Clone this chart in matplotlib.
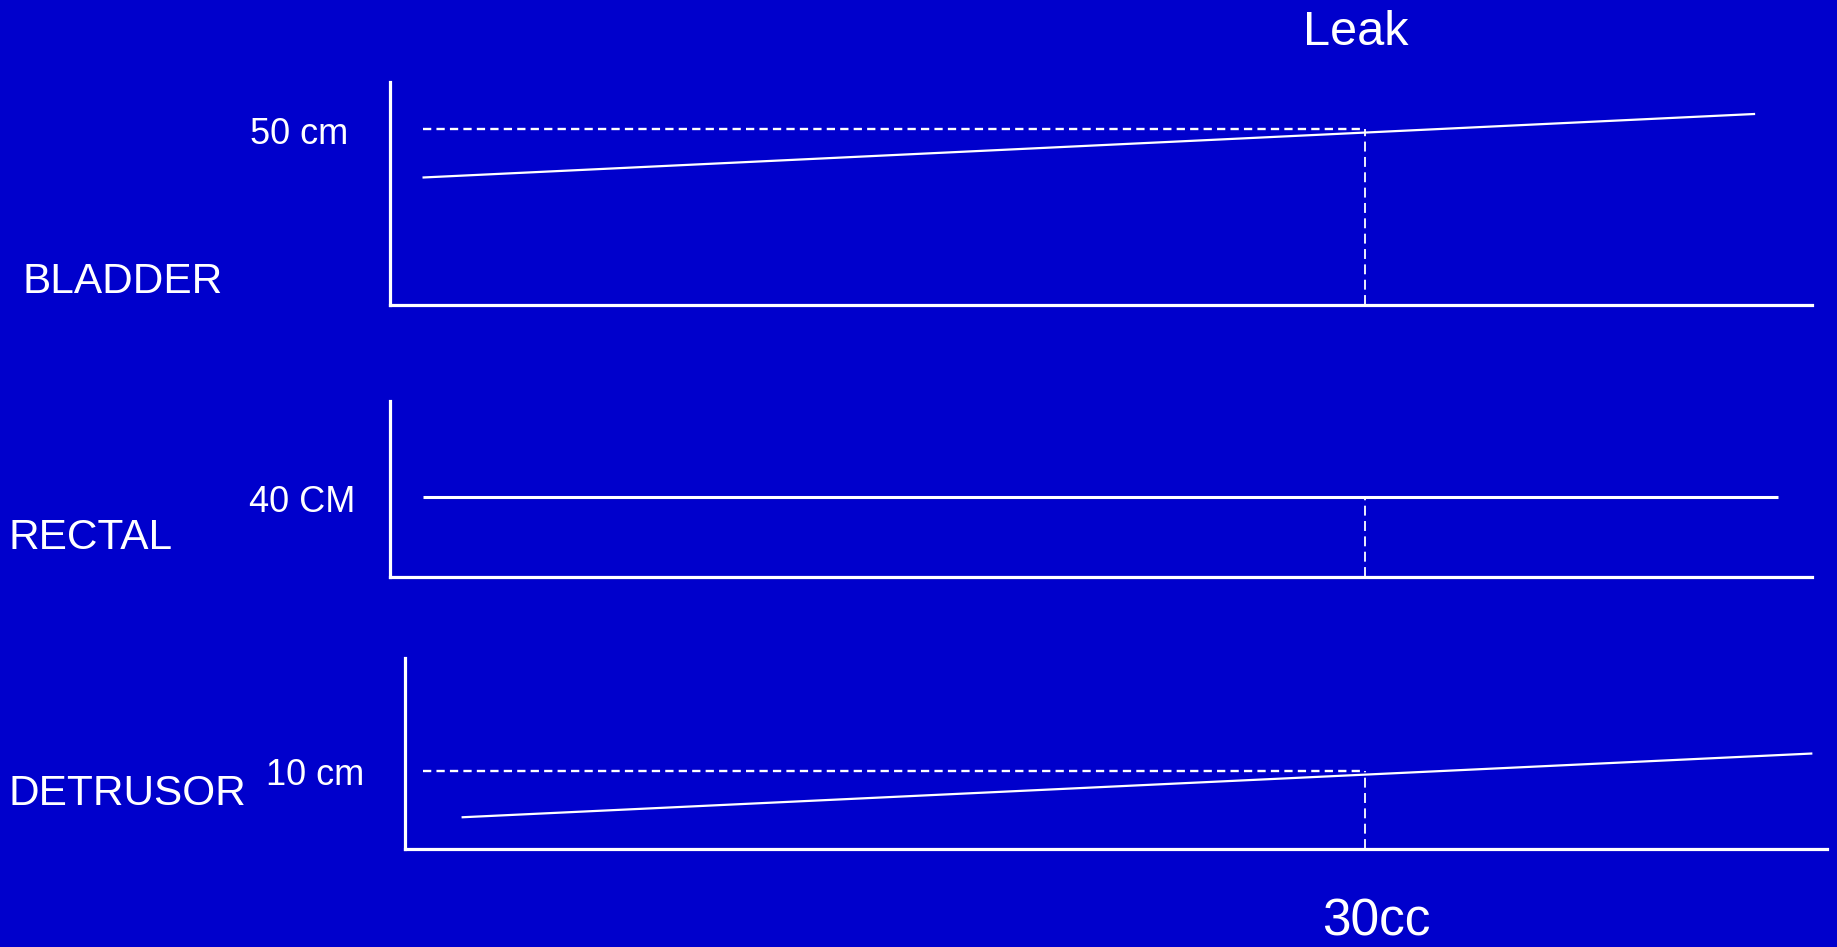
import matplotlib
matplotlib.use("Agg")
import matplotlib.pyplot as plt

# --- data (volume in cc, pressure in cm H2O) ---
leak_volume = 30
ref_start = 1
panels = ["BLADDER", "RECTAL", "DETRUSOR"]
vol_bladder = [1, 42]
p_bladder = [36.3, 54.4]
vol_rectal = [1, 42.7]
p_rectal = [40, 40]
vol_detrusor = [2.2, 43.75]
p_detrusor = [4.05, 12.2]
leak_pressure = [50, 40, 10]
leak_labels = ["50 cm", "40 CM", "10 cm"]
show_ref_line = [True, False, True]

BG = "#0000CC"
W, H = 1837, 947
plt.rcParams["font.family"] = ["Liberation Sans", "DejaVu Sans"]

fig = plt.figure(figsize=(W / 100, H / 100), dpi=100, facecolor=BG)

def box(l, t, r, b):
    return [l / W, 1 - b / H, (r - l) / W, (b - t) / H]

# axes boxes in pixels (left, top, right, bottom), xlim, ylim
layout = [
    (box(390, 82, 1812, 305), (0, 43.75), (0, 63.5)),
    (box(390, 401, 1812, 577), (0, 43.75), (0, 88)),
    (box(405, 658, 1827, 849), (0.46, 44.2), (0, 24.4)),
]
series = [(vol_bladder, p_bladder), (vol_rectal, p_rectal), (vol_detrusor, p_detrusor)]
line_w = [1.6, 2.2, 1.6]

for i, ((pos, xl, yl), (vx, vy)) in enumerate(zip(layout, series)):
    ax = fig.add_axes(pos)
    ax.set_facecolor(BG)
    ax.set_xlim(*xl); ax.set_ylim(*yl)
    for s in ("top", "right"):
        ax.spines[s].set_visible(False)
    for s in ("left", "bottom"):
        ax.spines[s].set_color("white"); ax.spines[s].set_linewidth(2.3)
    ax.set_xticks([]); ax.set_yticks([])
    ax.plot(vx, vy, color="white", lw=line_w[i], solid_capstyle="butt")
    lp = leak_pressure[i]
    if show_ref_line[i]:
        ax.plot([ref_start, leak_volume], [lp, lp], color="white", lw=1.7,
                dashes=(3.5, 2.2))
    ax.plot([leak_volume, leak_volume], [0, lp], color="white", lw=1.3,
            dashes=(5.5, 3))

def txt(x, y, s, size, ha="left", va="baseline"):
    fig.text(x / W, 1 - y / H, s, color="white", fontsize=size, ha=ha,
             va=va)

txt(1356, 45, "Leak", 35, ha="center")
txt(1376, 946, "30cc", 37, ha="center", va="bottom")
txt(23, 293, panels[0], 30.5)
txt(8, 549, panels[1], 30.5)
txt(8, 805, panels[2], 30.5)
txt(348, 144, leak_labels[0], 26, ha="right")
txt(355, 512, leak_labels[1], 26, ha="right")
txt(364, 785, leak_labels[2], 26, ha="right")

fig.savefig("out.png", dpi=100, facecolor=BG)
